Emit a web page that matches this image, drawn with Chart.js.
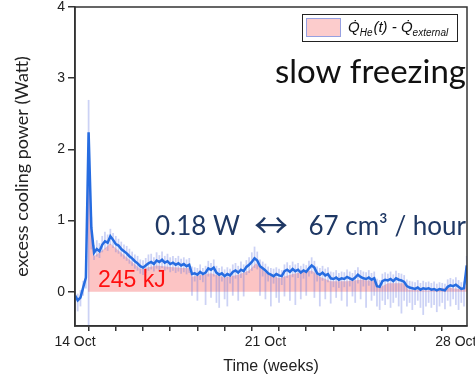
<!DOCTYPE html>
<html>
<head>
<meta charset="utf-8">
<script src="https://cdn.jsdelivr.net/npm/chart.js@4"></script>
<style>
html, body { margin: 0; padding: 0; background: #fff; }
</style>
</head>
<body>
<canvas id="coolingChart" width="475" height="375"></canvas>
<script>
// excess cooling power, one sample every 0.1 day from 14 Oct
let mainPower = [-0.05, -0.12, -0.08, 0.06, 0.2, 2.24, 0.9, 0.55, 0.6, 0.57,
	0.66, 0.71, 0.69, 0.78, 0.73, 0.67, 0.65, 0.6, 0.57, 0.54,
	0.5, 0.47, 0.43, 0.4, 0.36, 0.34, 0.37, 0.4, 0.42, 0.39,
	0.44, 0.42, 0.45, 0.41, 0.43, 0.39, 0.41, 0.38, 0.4, 0.37,
	0.39, 0.36, 0.38, 0.25, 0.26, 0.24, 0.28, 0.25, 0.27, 0.33,
	0.31, 0.34, 0.27, 0.24, 0.26, 0.22, 0.25, 0.23, 0.28, 0.3,
	0.27, 0.31, 0.29, 0.35, 0.38, 0.42, 0.47, 0.44, 0.36, 0.33,
	0.3, 0.26, 0.24, 0.22, 0.25, 0.23, 0.22, 0.29, 0.31, 0.28,
	0.32, 0.29, 0.31, 0.27, 0.3, 0.28, 0.33, 0.37, 0.34, 0.26,
	0.24, 0.27, 0.23, 0.25, 0.19, 0.18, 0.2, 0.17, 0.19, 0.18,
	0.21, 0.19, 0.17, 0.2, 0.24, 0.21, 0.19, 0.18, 0.2, 0.17,
	0.19, 0.08, 0.07, 0.15, 0.17, 0.16, 0.18, 0.15, 0.19, 0.17,
	0.16, 0.14, 0.08, 0.06, 0.05, 0.04, 0.06, 0.03, 0.05, 0.04,
	0.05, 0.03, 0.04, 0.02, 0.04, 0.03, 0.02, 0.07, 0.09, 0.08,
	0.1, 0.07, 0.04, 0.05, 0.37];
// noise envelope (light trace)
let noiseLow = [-0.15, -0.27, -0.2, -0.05, 0.05, -0.48, 0.6, 0.45, 0.5, 0.48,
	0.56, 0.6, 0.58, 0.66, 0.62, 0.56, 0.54, 0.5, 0.47, 0.44,
	0.4, 0.37, 0.33, 0.3, 0.26, 0.24, 0.27, 0.3, 0.32, 0.29,
	0.33, 0.3, 0.34, 0.3, 0.32, 0.28, 0.3, 0.27, 0.29, 0.26,
	0.28, 0.25, 0.27, -0.05, 0.15, -0.12, 0.17, 0.14, -0.18, 0.22,
	-0.08, 0.22, -0.15, -0.22, 0.15, -0.1, -0.2, 0.12, -0.05, 0.19,
	-0.12, 0.2, -0.06, 0.24, 0.27, 0.3, 0.34, 0.32, -0.05, 0.22,
	-0.1, 0.15, -0.2, 0.12, -0.08, -0.15, 0.1, -0.06, 0.2, -0.12,
	0.21, -0.18, 0.2, -0.1, 0.19, -0.05, 0.22, 0.26, -0.08, 0.15,
	-0.2, 0.16, -0.1, 0.14, -0.16, 0.07, -0.08, 0.06, -0.12, 0.07,
	-0.2, 0.08, -0.06, -0.15, 0.12, -0.1, 0.08, -0.22, 0.09, -0.12,
	-0.05, -0.2, -0.25, -0.12, -0.18, -0.1, -0.22, -0.15, -0.08, -0.2,
	-0.3, -0.12, -0.2, -0.15, -0.25, -0.18, -0.12, -0.22, -0.32, -0.2,
	-0.15, -0.22, -0.18, -0.28, -0.2, -0.15, -0.24, -0.12, -0.2, -0.1,
	-0.18, -0.25, -0.15, -0.2, 0.1];
let noiseHigh = [0.02, -0.03, 0.02, 0.15, 0.28, 2.69, 1.05, 0.65, 0.72, 0.68,
	0.78, 0.84, 0.8, 0.88, 0.82, 0.78, 0.74, 0.7, 0.66, 0.64,
	0.6, 0.56, 0.52, 0.5, 0.45, 0.44, 0.47, 0.52, 0.53, 0.48,
	0.55, 0.51, 0.56, 0.5, 0.53, 0.48, 0.5, 0.47, 0.5, 0.46,
	0.48, 0.45, 0.47, 0.35, 0.34, 0.33, 0.38, 0.33, 0.36, 0.43,
	0.4, 0.45, 0.36, 0.33, 0.35, 0.31, 0.34, 0.32, 0.38, 0.4,
	0.36, 0.42, 0.38, 0.44, 0.48, 0.55, 0.63, 0.56, 0.45, 0.42,
	0.39, 0.35, 0.33, 0.32, 0.34, 0.32, 0.3, 0.38, 0.41, 0.37,
	0.42, 0.38, 0.4, 0.36, 0.39, 0.37, 0.43, 0.48, 0.43, 0.35,
	0.33, 0.36, 0.32, 0.34, 0.28, 0.27, 0.3, 0.26, 0.28, 0.27,
	0.31, 0.28, 0.26, 0.3, 0.34, 0.3, 0.28, 0.27, 0.3, 0.26,
	0.28, 0.18, 0.16, 0.25, 0.27, 0.25, 0.28, 0.24, 0.29, 0.26,
	0.25, 0.23, 0.17, 0.15, 0.14, 0.13, 0.16, 0.12, 0.15, 0.13,
	0.14, 0.12, 0.14, 0.11, 0.13, 0.12, 0.11, 0.17, 0.19, 0.17,
	0.2, 0.16, 0.13, 0.14, 0.5];
// pink area (integrated part), day / value
let areaDays = [0.47, 0.48, 0.55, 0.62, 0.7, 1.0, 1.3, 1.6, 2.0, 2.4, 3.0, 3.5, 4.2, 4.3, 5.0, 5.5, 6.0, 6.4, 6.65, 7.0,
	7.5, 8.0, 8.7, 9.0, 9.4, 10.0, 10.5, 11.05, 11.15, 11.5, 12.1, 12.25, 13.0, 13.7, 14.3, 14.41];
let areaPower = [0, 1.7, 1.6, 0.9, 0.5, 0.58, 0.68, 0.58, 0.45, 0.32, 0.37, 0.35, 0.33, 0.21, 0.26, 0.2, 0.24, 0.3, 0.4, 0.27,
	0.19, 0.25, 0.3, 0.21, 0.15, 0.15, 0.17, 0.15, 0.05, 0.12, 0.12, 0.03, 0.02, 0.06, 0.03, 0.12];
let dayTicks = [0, 1, 2, 3, 4, 5, 6, 7, 8, 9, 10, 11, 12, 13, 14];
let tickDays = [0, 7, 14];
let tickLabels = ['14 Oct', '21 Oct', '28 Oct'];
let powerTicks = [0, 1, 2, 3, 4];

let sampleDays = mainPower.map((v, i) => i / 10);

const frameAndNotes = {
	id: 'frameAndNotes',
	afterDraw(chart) {
		const c = chart.ctx, a = chart.chartArea;
		c.save();
		c.strokeStyle = '#333';
		c.lineWidth = 1.5;
		c.strokeRect(a.left, a.top, a.right - a.left, a.bottom - a.top);

		// legend box
		c.fillStyle = '#fff';
		c.fillRect(302, 14, 155, 27);
		c.lineWidth = 1;
		c.strokeStyle = '#222';
		c.strokeRect(302.5, 14.5, 155, 27);
		c.fillStyle = 'rgb(252,204,204)';
		c.fillRect(306, 18, 34, 18);
		c.strokeStyle = 'rgb(150,160,225)';
		c.strokeRect(306.5, 18.5, 34, 18);
		c.fillStyle = '#111';
		c.textBaseline = 'alphabetic';
		c.textAlign = 'left';
		let x = 348;
		const parts = [['Q\u0307', 15, 0], ['He', 10, 4], ['(t) - Q\u0307', 15, 0], ['external', 10, 4]];
		parts.forEach(p => {
			c.font = 'italic ' + p[1] + 'px "Liberation Sans", Arial';
			c.fillText(p[0], x, 32 + p[2]);
			x += c.measureText(p[0]).width + (p[1] === 10 ? 1 : 0);
		});

		c.font = '33px Lato';
		c.fillStyle = '#111';
		c.textAlign = 'right';
		c.fillText('slow freezing', 466, 83);

		c.font = '26px Lato';
		c.fillStyle = '#1f3864';
		c.textAlign = 'left';
		c.fillText('0.18 W', 155, 235);
		c.textAlign = 'center';
		c.font = '34px "Noto Sans CJK JP"';
		c.fillText('\u2194', 271, 238);
		c.font = '26px Lato';
		c.textAlign = 'right';
		c.fillText('67 cm\u00b3 / hour', 466, 235);

		c.font = '23px "Liberation Sans", Arial';
		c.fillStyle = '#ff1010';
		c.textAlign = 'left';
		c.fillText('245 kJ', 98, 287);
		c.restore();
	}
};

var ctx = document.getElementById('coolingChart').getContext('2d');
var coolingChart = new Chart(ctx, {
	type: 'bar',
	data: {
		datasets: [{
			type: 'line',
			label: 'area',
			data: areaDays.map((d, i) => ({ x: d, y: areaPower[i] })),
			backgroundColor: 'rgb(252,196,196)',
			borderWidth: 0,
			pointRadius: 0,
			fill: 'origin',
			order: 3
		}, {
			label: 'noise',
			data: sampleDays.map((d, i) => ({ x: d, y: [noiseLow[i], noiseHigh[i]] })),
			backgroundColor: 'rgba(95,115,225,0.32)',
			barThickness: 1.1,
			order: 2
		}, {
			type: 'line',
			label: 'power',
			data: sampleDays.map((d, i) => ({ x: d, y: mainPower[i] })),
			borderColor: 'rgb(38,108,225)',
			borderWidth: 2.5,
			pointRadius: 0,
			tension: 0,
			order: 1
		}]
	},
	options: {
		responsive: false,
		animation: false,
		layout: { padding: { top: 7, right: 8, left: 0, bottom: 0 } },
		plugins: { legend: { display: false }, tooltip: { enabled: false } },
		scales: {
			x: {
				type: 'linear',
				offset: false,
				min: 0,
				max: 14.41,
				grid: { drawOnChartArea: false, drawTicks: true, tickLength: 5, color: '#333', lineWidth: 1.5 },
				border: { color: '#333', width: 1.5 },
				afterBuildTicks: s => { s.ticks = dayTicks.map(v => ({ value: v })); },
				afterFit: s => { s.height = 49; s.paddingLeft = 0; s.paddingRight = 0; },
				ticks: {
					autoSkip: false,
					maxRotation: 0,
					padding: 3,
					color: '#222',
					font: { family: '"Liberation Sans", Arial', size: 14 },
					callback: v => { const k = tickDays.indexOf(v); return k < 0 ? '' : tickLabels[k]; }
				},
				title: {
					display: true,
					text: 'Time (weeks)',
					color: '#222',
					font: { family: '"Liberation Sans", Arial', size: 16, lineHeight: 1 },
					padding: { top: 0, bottom: 0 }
				}
			},
			y: {
				min: -0.48,
				max: 4,
				grid: { drawOnChartArea: false, drawTicks: true, tickLength: 7, color: '#333', lineWidth: 1.5 },
				border: { color: '#333', width: 1.5 },
				afterBuildTicks: s => { s.ticks = powerTicks.map(v => ({ value: v })); },
				afterFit: s => { s.width = 75; s.paddingTop = 0; s.paddingBottom = 0; },
				ticks: {
					padding: 3,
					color: '#222',
					font: { family: '"Liberation Sans", Arial', size: 14 }
				},
				title: {
					display: true,
					text: 'excess cooling power (Watt)',
					color: '#222',
					font: { family: 'Lato', size: 18 },
					padding: { top: 11, bottom: 0 }
				}
			}
		}
	},
	plugins: [frameAndNotes]
});
</script>
</body>
</html>
